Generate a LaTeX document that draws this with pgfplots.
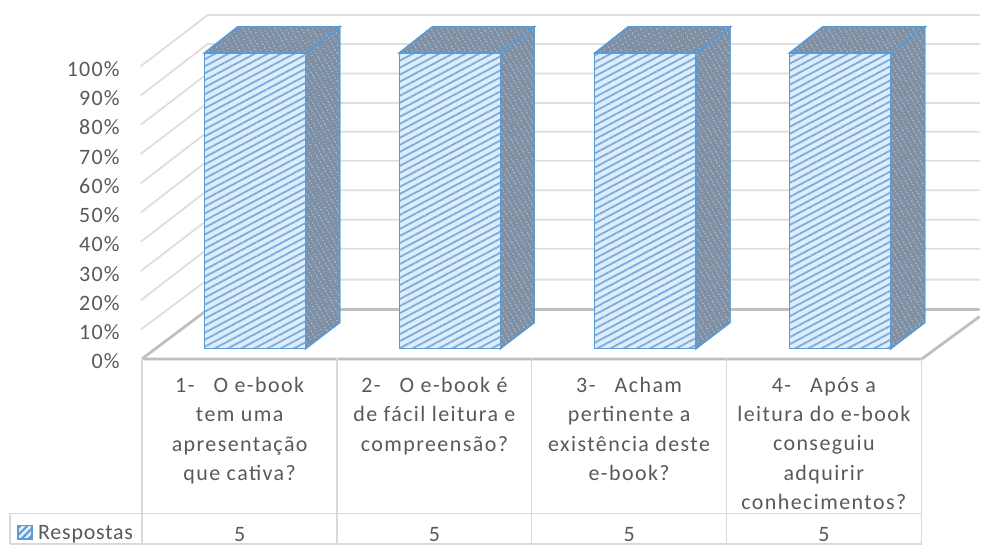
\documentclass[border=0pt]{standalone}
\usepackage{pgfplots}
\pgfplotsset{compat=1.18}
\usepackage{fontspec}
\setmainfont{Carlito}
\newfontfamily\lab[LetterSpace=5.5]{Carlito}
\newfontfamily\labb[LetterSpace=3.5]{Carlito}
\newfontfamily\labc[LetterSpace=6.5]{Carlito}
\usetikzlibrary{patterns.meta}
\definecolor{txt}{HTML}{595959}
\definecolor{gridc}{HTML}{DEDEDE}
\definecolor{floorc}{HTML}{BFBFBF}
\definecolor{tabc}{HTML}{D9D9D9}
\definecolor{bl}{HTML}{5B9BD5}
\definecolor{lt}{HTML}{DFEDFB}
\definecolor{dk}{HTML}{808FA1}
\tikzset{
 frontp/.style={preaction={fill=lt},pattern={Lines[angle=28,distance=6.2pt,line width=1.9pt,xshift=1pt]},pattern color=bl!80!white},
 darkp/.style={preaction={fill=dk},pattern={Dots[radius=.8pt,distance=4pt,angle=30]},pattern color=bl!55!white},
 cell/.style={font=\fontsize{22}{29.4}\labc\selectfont,text=txt,align=center,anchor=north,inner sep=0pt}
}
\begin{document}
\begin{tikzpicture}[x=1pt,y=1pt]
\begin{axis}[name=pix,at={(0,0)},anchor=south west,scale only axis,width=859pt,height=547pt,
 xmin=122,xmax=981,ymin=0,ymax=547,y dir=reverse,clip=false,
 axis line style={draw=none},xtick=\empty,
 major tick length=0pt,
 ytick={359,329.7,300.4,271.1,241.8,212.5,183.2,153.9,124.6,95.3,66},
 yticklabels={0\%,10\%,20\%,30\%,40\%,50\%,60\%,70\%,80\%,90\%,100\%},
 yticklabel style={font=\fontsize{22}{26}\lab\selectfont,text=txt,inner sep=0pt,xshift=-2pt,yshift=-3pt},
]
% walls
\addplot[gridc,line width=1.8pt,no marks] coordinates {(141,330.0)(208,280.0)(981,280.0)};
\addplot[gridc,line width=1.8pt,no marks] coordinates {(141,300.7)(208,249.0)(981,249.0)};
\addplot[gridc,line width=1.8pt,no marks] coordinates {(141,271.4)(208,220.0)(981,220.0)};
\addplot[gridc,line width=1.8pt,no marks] coordinates {(141,242.1)(208,190.5)(981,190.5)};
\addplot[gridc,line width=1.8pt,no marks] coordinates {(141,212.8)(208,161.0)(981,161.0)};
\addplot[gridc,line width=1.8pt,no marks] coordinates {(141,183.5)(208,132.0)(981,132.0)};
\addplot[gridc,line width=1.8pt,no marks] coordinates {(141,154.2)(208,103.0)(981,103.0)};
\addplot[gridc,line width=1.8pt,no marks] coordinates {(141,124.9)(208,73.5)(981,73.5)};
\addplot[gridc,line width=1.8pt,no marks] coordinates {(141,95.6)(208,44.0)(981,44.0)};
\addplot[gridc,line width=1.8pt,no marks] coordinates {(141,66.3)(208,15.0)(981,15.0)};
% floor
\addplot[floorc,line width=2.8pt,no marks] coordinates {(142,359.5)(208,310)(981,310)};
\addplot[floorc,line width=2.8pt,no marks] coordinates {(142,359.5)(923,359.5)(981,317)};
% table
\addplot[tabc,line width=1.5pt,no marks] coordinates {(142,359)(142,545)};
\addplot[tabc,line width=1.5pt,no marks] coordinates {(337.5,359)(337.5,545)};
\addplot[tabc,line width=1.5pt,no marks] coordinates {(532.5,359)(532.5,545)};
\addplot[tabc,line width=1.5pt,no marks] coordinates {(727.5,359)(727.5,545)};
\addplot[tabc,line width=1.5pt,no marks] coordinates {(923,359)(923,545)};
\addplot[tabc,line width=1.5pt,no marks] coordinates {(10,514)(923,514)};
\addplot[tabc,line width=1.5pt,no marks] coordinates {(10,545)(923,545)};
\addplot[tabc,line width=1.5pt,no marks] coordinates {(10,514)(10,545)};
% side and top faces
\addplot[draw=bl,line width=1.5pt,darkp] coordinates {(306,53)(340,27)(340,323)(306,349)} --cycle;
\addplot[draw=bl,line width=1.5pt,darkp] coordinates {(205,53)(238,27)(340,27)(306,53)} --cycle;
\addplot[draw=bl,line width=1.5pt,darkp] coordinates {(501,53)(535,27)(535,323)(501,349)} --cycle;
\addplot[draw=bl,line width=1.5pt,darkp] coordinates {(400,53)(433,27)(535,27)(501,53)} --cycle;
\addplot[draw=bl,line width=1.5pt,darkp] coordinates {(697,53)(731,27)(731,323)(697,349)} --cycle;
\addplot[draw=bl,line width=1.5pt,darkp] coordinates {(596,53)(629,27)(731,27)(697,53)} --cycle;
\addplot[draw=bl,line width=1.5pt,darkp] coordinates {(892,53)(926,27)(926,323)(892,349)} --cycle;
\addplot[draw=bl,line width=1.5pt,darkp] coordinates {(791,53)(824,27)(926,27)(892,53)} --cycle;
% legend key
\addplot[draw=bl,line width=1.5pt,preaction={fill=lt},pattern={Lines[angle=45,distance=5pt,line width=2pt]},pattern color=bl] coordinates {(18,526)(32,526)(32,540)(18,540)} --cycle;
% texts
\node[cell] at (axis cs:240,377.5) {1-\ \ \ O e-book\\tem uma\\apresentação\\que cativa?};
\node[cell] at (axis cs:435,377.5) {2-\ \ \ O e-book é\\de fácil leitura e\\compreensão?};
\node[cell] at (axis cs:630,377.5) {3-\ \ \ Acham\\pertinente a\\existência deste\\e-book?};
\node[cell] at (axis cs:825,377.5) {4-\ \ \ Após a\\leitura do e-book\\conseguiu\\adquirir\\conhecimentos?};
\node[font=\fontsize{22}{26}\labb\selectfont,text=txt,anchor=west,inner sep=0pt] at (axis cs:38,535) {Respostas};
\node[font=\fontsize{22}{26}\lab\selectfont,text=txt,inner sep=0pt] at (axis cs:240,535) {5};
\node[font=\fontsize{22}{26}\lab\selectfont,text=txt,inner sep=0pt] at (axis cs:435,535) {5};
\node[font=\fontsize{22}{26}\lab\selectfont,text=txt,inner sep=0pt] at (axis cs:630,535) {5};
\node[font=\fontsize{22}{26}\lab\selectfont,text=txt,inner sep=0pt] at (axis cs:825,535) {5};
\end{axis}
% front faces: the values, 100% for every category
\begin{axis}[at={(35.7pt,198pt)},anchor=south west,scale only axis,width=781pt,height=296pt,
 xmin=0,xmax=4,ymin=0,ymax=100,hide axis,clip=false,ybar,bar width=101pt]
\addplot[draw=bl,line width=1.6pt,frontp] coordinates {(0.5,100)(1.5,100)(2.5,100)(3.5,100)};
\end{axis}
\path[use as bounding box] (-122pt,0pt) rectangle (859pt,547pt);
\end{tikzpicture}
\end{document}
